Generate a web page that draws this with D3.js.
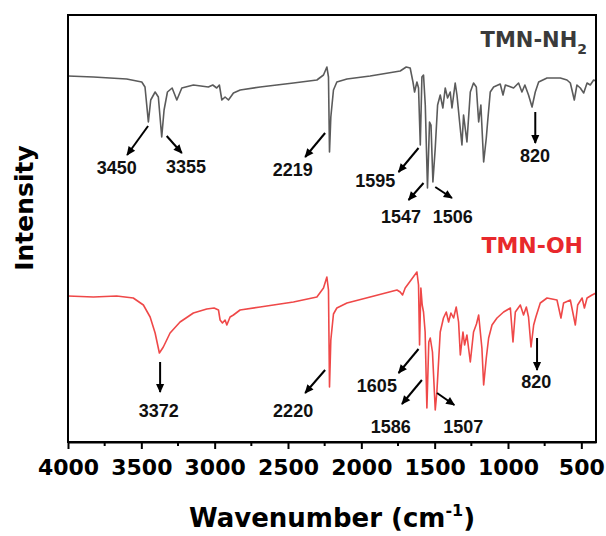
<!DOCTYPE html>
<html>
<head>
<meta charset="utf-8">
<script src="https://cdn.jsdelivr.net/npm/d3@7"></script>
<style>
    body { margin: 0; background: #fff; }
    svg { display: block; }
</style>
</head>
<body>
<svg id="chart" width="606" height="536"></svg>
<script>
'use strict';

// Spectrum of TMN-NH2, [wavenumber, intensity (a.u.)]
var nh2Spectrum = [
    [4000, 366], [3827, 365], [3600, 363], [3497, 360], [3475, 355], [3452, 320], [3436, 342],
    [3406, 350], [3384, 345], [3361, 305], [3345, 332], [3322, 350], [3290, 354], [3258, 342],
    [3224, 354], [3145, 357], [3043, 355], [3013, 357], [2986, 354], [2968, 357], [2951, 342],
    [2929, 345], [2906, 342], [2872, 349], [2826, 352], [2690, 355], [2463, 359], [2303, 362],
    [2258, 367], [2235, 375], [2224, 365], [2217, 290], [2208, 325], [2190, 352], [2167, 360],
    [2098, 363], [1940, 366], [1735, 371], [1694, 375], [1667, 374], [1648, 360], [1637, 350],
    [1621, 360], [1610, 354], [1598, 297], [1587, 365], [1576, 367], [1564, 337], [1549, 254],
    [1535, 320], [1525, 317], [1512, 260], [1496, 294], [1480, 337], [1462, 347], [1444, 334],
    [1428, 354], [1412, 344], [1394, 350], [1382, 334], [1360, 359], [1348, 347], [1330, 320],
    [1314, 297], [1303, 327], [1280, 300], [1257, 350], [1235, 359], [1216, 355], [1200, 320],
    [1185, 337], [1166, 280], [1148, 304], [1139, 320], [1121, 350], [1098, 355], [1053, 358],
    [1034, 347], [1018, 357], [962, 354], [928, 359], [905, 350], [885, 357], [860, 347],
    [836, 335], [814, 350], [791, 360], [734, 364], [643, 364], [598, 362], [575, 359],
    [548, 342], [530, 357], [507, 354], [484, 349], [461, 359], [439, 357], [416, 362], [400, 361]
];

// Spectrum of TMN-OH, [wavenumber, intensity (a.u.)]
var ohSpectrum = [
    [4000, 146], [3827, 145], [3668, 146], [3555, 144], [3486, 137], [3440, 125], [3406, 109],
    [3377, 89], [3350, 95], [3304, 109], [3236, 120], [3145, 129], [3054, 133], [3004, 134],
    [2974, 132], [2963, 122], [2947, 119], [2929, 122], [2917, 117], [2895, 125], [2872, 127],
    [2827, 132], [2690, 135], [2463, 140], [2303, 145], [2258, 154], [2235, 165], [2224, 152],
    [2217, 55], [2208, 102], [2190, 128], [2167, 134], [2098, 139], [1940, 145], [1757, 152],
    [1735, 150], [1719, 147], [1701, 154], [1621, 170], [1610, 157], [1603, 97], [1594, 154],
    [1585, 137], [1576, 130], [1565, 110], [1553, 34], [1540, 100], [1530, 104], [1515, 90],
    [1496, 32], [1485, 50], [1462, 110], [1440, 124], [1421, 130], [1405, 120], [1389, 129],
    [1371, 124], [1353, 135], [1337, 120], [1325, 87], [1307, 110], [1296, 97], [1280, 107],
    [1257, 80], [1235, 110], [1215, 118], [1200, 127], [1178, 94], [1166, 57], [1148, 84],
    [1132, 104], [1109, 117], [1075, 124], [1030, 130], [984, 134], [966, 100], [950, 130],
    [916, 137], [894, 127], [875, 135], [860, 125], [843, 95], [825, 117], [810, 125],
    [780, 139], [734, 144], [666, 142], [639, 124], [621, 139], [575, 142], [541, 117],
    [525, 137], [495, 144], [479, 134], [461, 144], [427, 147], [400, 149]
];

// Peak labels: [text, tail wn, tail val, head wn, head val, label wn, label val]
var nh2Peaks = [
    ['3450', 3454, 316, 3597, 287, 3668, 268],
    ['3355', 3327, 306, 3224, 289, 3196, 269],
    ['2219', 2247, 309, 2383, 285, 2468, 266],
    ['1595', 1610, 294, 1746, 270, 1905, 255],
    ['1547', 1576, 259, 1678, 242, 1729, 219],
    ['1506', 1496, 255, 1382, 244, 1377, 219],
    ['820', 814, 330, 814, 299, 816, 280]
];

var ohPeaks = [
    ['3372', 3372, 80, 3372, 50, 3381, 25],
    ['2220', 2247, 72, 2383, 49, 2465, 25],
    ['1605', 1610, 93, 1746, 69, 1894, 50],
    ['1586', 1587, 62, 1723, 38, 1800, 9],
    ['1507', 1484, 49, 1366, 37, 1305, 9],
    ['820', 802, 104, 802, 72, 808, 54]
];

var majorTicks = [4000, 3500, 3000, 2500, 2000, 1500, 1000, 500];
var minorTicks = [3750, 3250, 2750, 2250, 1750, 1250, 750];

var GRAY = '#5b5b5b',
    RED = '#ef4848',
    BOLD_FONT = '"DejaVu Sans", sans-serif',
    LABEL_FONT = '"Liberation Sans", Arial, sans-serif';

var margin = {top: 15, right: 10, bottom: 94, left: 68},
    width = 606 - margin.left - margin.right,
    height = 536 - margin.top - margin.bottom;

var svg = d3.select('#chart');

var x = d3.scaleLinear().domain([4000, 400]).range([0, width]);
var y = d3.scaleLinear().domain([0, 427]).range([height, 0]);

var plot = svg.append('g')
    .attr('transform', 'translate(' + margin.left + ',' + margin.top + ')');

svg.append('defs').append('clipPath')
    .attr('id', 'clip')
    .append('rect')
    .attr('width', width)
    .attr('height', height);

svg.select('defs').append('marker')
    .attr('id', 'head')
    .attr('markerUnits', 'userSpaceOnUse')
    .attr('viewBox', '0 -5 10 10')
    .attr('refX', 9)
    .attr('refY', 0)
    .attr('markerWidth', 10)
    .attr('markerHeight', 9)
    .attr('orient', 'auto')
    .append('path')
    .attr('d', 'M0,-4.5L10,0L0,4.5Z')
    .attr('fill', '#000');

var line = d3.line()
    .x(function (d) { return x(d[0]); })
    .y(function (d) { return y(d[1]); });

// Spectra
var curves = plot.append('g').attr('clip-path', 'url(#clip)');

curves.append('path')
    .datum(nh2Spectrum)
    .attr('d', line)
    .attr('fill', 'none')
    .attr('stroke', GRAY)
    .attr('stroke-width', 1.6)
    .attr('stroke-linejoin', 'round');

curves.append('path')
    .datum(ohSpectrum)
    .attr('d', line)
    .attr('fill', 'none')
    .attr('stroke', RED)
    .attr('stroke-width', 1.6)
    .attr('stroke-linejoin', 'round');

// Peak arrows and labels
function drawPeaks(peaks) {
    var g = plot.append('g');

    g.selectAll('line')
        .data(peaks)
        .enter().append('line')
        .attr('x1', function (d) { return x(d[1]); })
        .attr('y1', function (d) { return y(d[2]); })
        .attr('x2', function (d) { return x(d[3]); })
        .attr('y2', function (d) { return y(d[4]); })
        .attr('stroke', '#000')
        .attr('stroke-width', 2)
        .attr('marker-end', 'url(#head)');

    g.selectAll('text')
        .data(peaks)
        .enter().append('text')
        .attr('x', function (d) { return x(d[5]); })
        .attr('y', function (d) { return y(d[6]); })
        .attr('text-anchor', 'middle')
        .attr('font-family', LABEL_FONT)
        .attr('font-weight', 'bold')
        .attr('font-size', 18)
        .attr('fill', '#111')
        .text(function (d) { return d[0]; });
}

drawPeaks(nh2Peaks);
drawPeaks(ohPeaks);

// Legends
var nh2Text = plot.append('text')
    .attr('x', width - 9)
    .attr('y', 32)
    .attr('text-anchor', 'end')
    .attr('font-family', BOLD_FONT)
    .attr('font-weight', 'bold')
    .attr('font-size', 21)
    .attr('fill', '#3a3a3a');
nh2Text.append('tspan').text('TMN-NH');
nh2Text.append('tspan')
    .attr('font-size', 14)
    .attr('dy', 7)
    .text('2');

plot.append('text')
    .attr('x', width - 13)
    .attr('y', 238)
    .attr('text-anchor', 'end')
    .attr('font-family', BOLD_FONT)
    .attr('font-weight', 'bold')
    .attr('font-size', 22)
    .attr('fill', '#e8282c')
    .text('TMN-OH');

// Frame
plot.append('rect')
    .attr('width', width)
    .attr('height', height)
    .attr('fill', 'none')
    .attr('stroke', '#000')
    .attr('stroke-width', 2);

// Bottom axis
var axis = plot.append('g')
    .attr('transform', 'translate(0,' + height + ')')
    .call(d3.axisBottom(x)
        .tickValues(majorTicks)
        .tickFormat(d3.format('d'))
        .tickSize(7)
        .tickSizeOuter(0));

axis.select('.domain').attr('stroke-width', 2);
axis.selectAll('.tick line').attr('stroke-width', 2);
axis.selectAll('.tick text')
    .attr('y', 33)
    .attr('dy', 0)
    .attr('font-family', BOLD_FONT)
    .attr('font-weight', 'bold')
    .attr('font-size', 22)
    .attr('fill', '#000');

plot.append('g')
    .attr('transform', 'translate(0,' + height + ')')
    .selectAll('line')
    .data(minorTicks)
    .enter().append('line')
    .attr('x1', function (d) { return x(d); })
    .attr('x2', function (d) { return x(d); })
    .attr('y1', 0)
    .attr('y2', 4)
    .attr('stroke', '#000')
    .attr('stroke-width', 2);

// Axis titles
var xTitle = svg.append('text')
    .attr('x', margin.left + width / 2)
    .attr('y', 527)
    .attr('text-anchor', 'middle')
    .attr('font-family', BOLD_FONT)
    .attr('font-weight', 'bold')
    .attr('font-size', 26)
    .attr('fill', '#000');
xTitle.append('tspan').text('Wavenumber (cm');
xTitle.append('tspan').attr('font-size', 16).attr('dy', -11).text('-1');
xTitle.append('tspan').attr('dy', 11).text(')');

svg.append('text')
    .attr('transform', 'translate(33,208) rotate(-90)')
    .attr('text-anchor', 'middle')
    .attr('font-family', BOLD_FONT)
    .attr('font-weight', 'bold')
    .attr('font-size', 25)
    .attr('fill', '#000')
    .text('Intensity');
</script>
</body>
</html>
